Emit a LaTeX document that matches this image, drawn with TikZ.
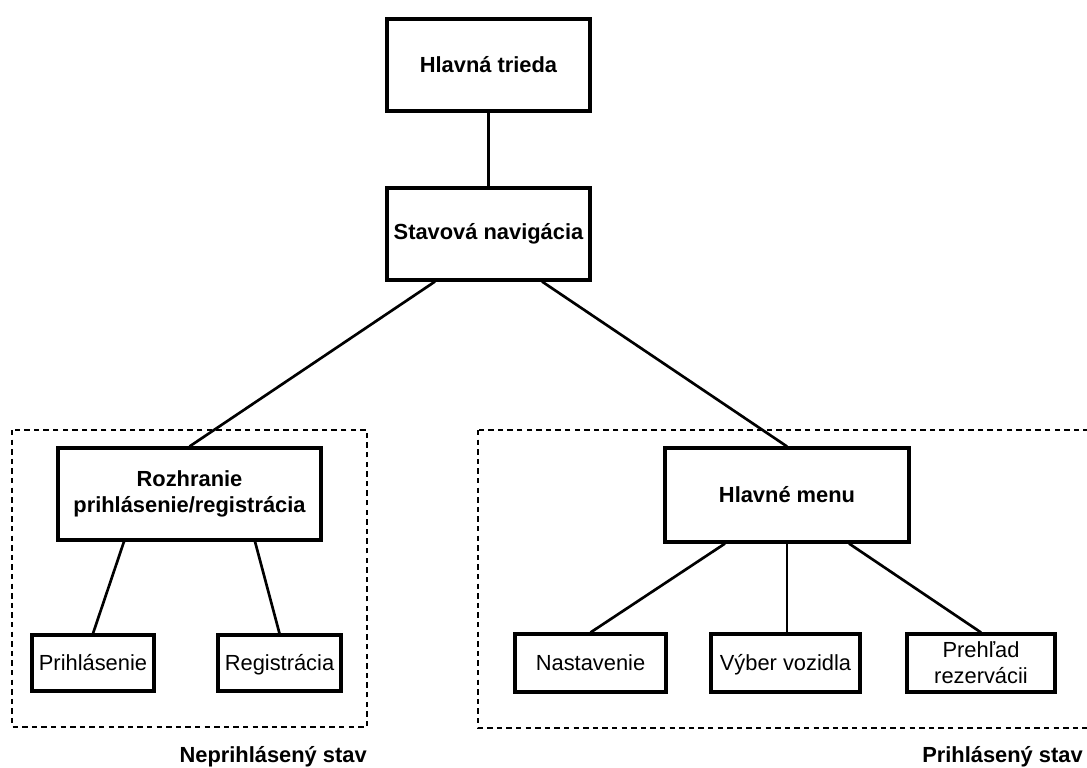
\documentclass[tikz,border=0pt]{standalone}
\usepackage{fontspec}
\setmainfont{Liberation Sans}
\usetikzlibrary{calc}
\tikzset{
  box/.style={draw, line width=2.3pt, inner sep=0pt, align=center, fill=white},
  bbox/.style={box, font=\fontsize{16.4}{19}\selectfont\bfseries},
  nbox/.style={box, font=\fontsize{16.4}{19.5}\selectfont},
  sbox/.style={nbox, text height=11.8pt, text depth=0pt},
  conn/.style={line width=2pt},
  region/.style={draw, line width=1pt, dash pattern=on 4pt off 3.2pt},
  caption/.style={font=\fontsize{16.4}{19}\selectfont\bfseries, inner sep=0pt, anchor=base east}
}
\begin{document}
\begin{tikzpicture}[x=0.75pt, y=-0.75pt]
\useasboundingbox (0,0) rectangle (1087,767);
% state regions
\draw[region] (12,430) rectangle (367,727);
\draw[region] (478,430) rectangle (1095,728);
\node[caption] (cap1) at (367,762) {Neprihlásený stav};
\node[caption] (cap2) at (1083,762) {Prihlásený stav};
% boxes
\node[bbox, minimum width=203*0.75pt, minimum height=92*0.75pt] (hl) at (488.5,65) {Hlavná trieda};
\node[bbox, minimum width=203*0.75pt, minimum height=92*0.75pt] (stav) at (488.5,234) {Stavová navigácia};
\node[bbox, minimum width=263*0.75pt, minimum height=92*0.75pt] (roz) at (189.5,494) {Rozhranie\\prihlásenie/registrácia};
\node[sbox, minimum width=122*0.75pt, minimum height=56*0.75pt] (prihl) at (93,663) {Prihlásenie};
\node[sbox, minimum width=123*0.75pt, minimum height=56*0.75pt] (reg) at (279.5,663) {Registrácia};
\node[bbox, minimum width=244*0.75pt, minimum height=94*0.75pt] (menu) at (787,495) {Hlavné menu};
\node[sbox, minimum width=151*0.75pt, minimum height=58*0.75pt] (nast) at (590.5,663) {Nastavenie};
\node[sbox, minimum width=149*0.75pt, minimum height=58*0.75pt] (vyb) at (785.5,663) {Výber vozidla};
\node[nbox, minimum width=148*0.75pt, minimum height=58*0.75pt] (preh) at (981,663) {Prehľad\\rezervácii};
% connectors
\draw[conn] (hl.south) -- (stav.north);
\draw[conn] ($(stav.south)+(-53.5,0)$) -- (roz.north);
\draw[conn] ($(stav.south)+(53.5,0)$) -- (menu.north);
\draw[conn] ($(roz.south)+(-65.5,0)$) -- (prihl.north);
\draw[conn] ($(roz.south)+(65.5,0)$) -- (reg.north);
\draw[conn] ($(menu.south)+(-62,0)$) -- (nast.north);
\draw[conn] (menu.south) -- (menu.south |- vyb.north);
\draw[conn] ($(menu.south)+(62,0)$) -- (preh.north);
\end{tikzpicture}
\end{document}
